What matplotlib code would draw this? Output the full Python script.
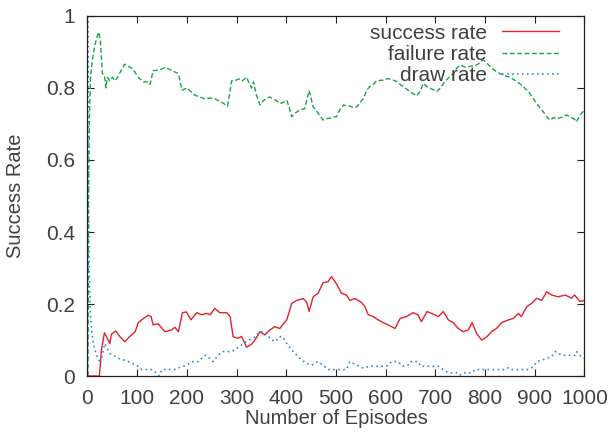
import matplotlib
matplotlib.use("Agg")
import matplotlib.pyplot as plt

# ---- data ----
success_ep = [1, 24, 28, 34, 38, 45, 48, 57, 65, 75, 85, 96, 102, 110, 122, 128, 132, 142, 156, 169, 176, 183,
              191, 199, 208, 220, 230, 240, 247, 256, 266, 280, 287, 293, 303, 310, 320, 330, 337, 347, 357,
              367, 377, 387, 394, 401, 411, 421, 434, 441, 446, 454, 464, 474, 484, 491, 501, 511, 521, 528,
              538, 551, 558, 565, 575, 585, 595, 605, 612, 619, 629, 642, 655, 665, 672, 683, 692, 706, 716,
              726, 736, 746, 756, 766, 774, 783, 793, 803, 813, 823, 833, 847, 857, 867, 873, 884, 894, 904,
              914, 924, 934, 947, 961, 974, 980, 991, 1000]
success_rate = [0.0, 0.0, 0.072, 0.12, 0.11, 0.09, 0.116, 0.125, 0.11, 0.095, 0.11, 0.123, 0.148, 0.157, 0.169,
                0.165, 0.142, 0.145, 0.123, 0.128, 0.135, 0.123, 0.176, 0.178, 0.156, 0.176, 0.17, 0.174, 0.17,
                0.188, 0.176, 0.176, 0.165, 0.109, 0.105, 0.11, 0.08, 0.088, 0.1, 0.123, 0.114, 0.128, 0.137,
                0.132, 0.145, 0.156, 0.202, 0.21, 0.215, 0.205, 0.179, 0.22, 0.23, 0.259, 0.262, 0.276, 0.256,
                0.23, 0.225, 0.21, 0.215, 0.205, 0.193, 0.17, 0.165, 0.156, 0.148, 0.142, 0.137, 0.132, 0.16,
                0.165, 0.176, 0.17, 0.151, 0.179, 0.174, 0.165, 0.179, 0.156, 0.148, 0.132, 0.123, 0.128, 0.148,
                0.118, 0.1, 0.108, 0.123, 0.132, 0.148, 0.156, 0.16, 0.174, 0.165, 0.193, 0.202, 0.216, 0.21,
                0.234, 0.225, 0.22, 0.225, 0.216, 0.225, 0.207, 0.21]

failure_ep = [1, 2, 4, 6, 10, 15, 20, 23, 26, 30, 34, 37, 40, 45, 50, 55, 61, 68, 75, 82, 89, 95, 102, 112, 122,
              126, 132, 145, 156, 168, 175, 183, 190, 200, 208, 216, 226, 236, 246, 256, 263, 270, 282, 290,
              296, 305, 312, 320, 330, 334, 340, 347, 354, 360, 367, 373, 380, 387, 394, 401, 406, 411, 418,
              427, 437, 446, 454, 464, 474, 481, 488, 495, 501, 508, 515, 521, 528, 535, 542, 555, 562, 568,
              575, 582, 595, 605, 615, 622, 629, 635, 649, 662, 669, 676, 682, 689, 696, 703, 710, 719, 728,
              736, 743, 750, 760, 770, 783, 790, 796, 803, 810, 817, 823, 837, 850, 864, 877, 890, 897, 904,
              910, 917, 924, 931, 938, 944, 957, 964, 971, 978, 984, 991, 1000]
failure_rate = [0.0, 0.5, 0.72, 0.83, 0.88, 0.92, 0.945, 0.955, 0.93, 0.84, 0.835, 0.80, 0.83, 0.82, 0.83, 0.82,
                0.83, 0.85, 0.866, 0.86, 0.855, 0.845, 0.83, 0.817, 0.817, 0.81, 0.848, 0.85, 0.857, 0.85, 0.845,
                0.84, 0.794, 0.80, 0.79, 0.78, 0.775, 0.77, 0.772, 0.77, 0.765, 0.76, 0.75, 0.82, 0.82, 0.825,
                0.82, 0.83, 0.80, 0.817, 0.78, 0.753, 0.765, 0.771, 0.775, 0.77, 0.765, 0.757, 0.76, 0.766, 0.745,
                0.72, 0.73, 0.739, 0.743, 0.793, 0.748, 0.730, 0.711, 0.715, 0.716, 0.72, 0.72, 0.74, 0.753, 0.75,
                0.75, 0.745, 0.748, 0.771, 0.794, 0.804, 0.81, 0.82, 0.822, 0.826, 0.822, 0.818, 0.81, 0.804, 0.79,
                0.778, 0.79, 0.813, 0.805, 0.80, 0.795, 0.79, 0.80, 0.818, 0.83, 0.84, 0.855, 0.864, 0.858, 0.86,
                0.864, 0.87, 0.878, 0.87, 0.86, 0.852, 0.845, 0.835, 0.83, 0.818, 0.804, 0.785, 0.77, 0.757, 0.745,
                0.734, 0.72, 0.711, 0.718, 0.714, 0.72, 0.725, 0.72, 0.715, 0.706, 0.725, 0.739]

draw_ep = [1, 2, 3, 4, 6, 8, 12, 18, 23, 26, 30, 35, 40, 45, 55, 62, 72, 82, 90, 99, 109, 129, 137, 144, 150,
           174, 190, 200, 210, 223, 236, 245, 253, 263, 273, 290, 300, 310, 324, 334, 340, 347, 357, 367, 377,
           387, 392, 401, 411, 421, 431, 441, 451, 464, 474, 484, 521, 528, 542, 555, 568, 602, 612, 625, 635,
           645, 649, 665, 670, 692, 706, 716, 726, 746, 750, 756, 774, 780, 840, 847, 853, 887, 897, 904, 914,
           924, 934, 941, 954, 981, 984, 990, 1000]
draw_rate = [1.0, 0.5, 0.33, 0.25, 0.17, 0.128, 0.09, 0.058, 0.045, 0.035, 0.06, 0.09, 0.075, 0.063, 0.055,
             0.049, 0.045, 0.04, 0.035, 0.03, 0.018, 0.018, 0.01, 0.0, 0.018, 0.018, 0.026, 0.03, 0.04, 0.04,
             0.058, 0.05, 0.04, 0.058, 0.068, 0.068, 0.077, 0.086, 0.1, 0.105, 0.114, 0.123, 0.123, 0.105, 0.095,
             0.109, 0.11, 0.09, 0.072, 0.058, 0.044, 0.035, 0.03, 0.04, 0.03, 0.018, 0.018, 0.04, 0.03, 0.022,
             0.027, 0.027, 0.04, 0.04, 0.027, 0.03, 0.04, 0.04, 0.027, 0.027, 0.027, 0.018, 0.009, 0.009, 0.003,
             0.009, 0.009, 0.018, 0.018, 0.023, 0.018, 0.018, 0.026, 0.04, 0.044, 0.049, 0.054, 0.068, 0.058,
             0.058, 0.068, 0.058, 0.049]

x_ticks = [0, 100, 200, 300, 400, 500, 600, 700, 800, 900, 1000]
y_ticks = [0, 0.2, 0.4, 0.6, 0.8, 1.0]
y_tick_labels = ["0", "0.2", "0.4", "0.6", "0.8", "1"]

# ---- style ----
plt.rcParams['font.family'] = ['Liberation Sans', 'DejaVu Sans']
text_col = '#404040'

fig = plt.figure(figsize=(6.11, 4.32), dpi=100)
ax = fig.add_axes([0.1432, 0.1296, 0.8134, 0.8334])

ax.plot(success_ep, success_rate, color='#e3202c', lw=1.0, ls='-', label='success rate')
ax.plot(failure_ep, failure_rate, color='#17a544', lw=1.0, ls=(0, (3.5, 1.8)), label='failure rate')
ax.plot(draw_ep, draw_rate, color='#3388cc', lw=1.2, ls=(0, (1, 2)), label='draw rate')

ax.set_xlim(0, 1000)
ax.set_ylim(0, 1)
ax.set_xticks(x_ticks)
ax.set_yticks(y_ticks)
ax.set_yticklabels(y_tick_labels)
ax.tick_params(direction='in', length=5, width=0.8, top=True, right=True,
               labelsize=15, labelcolor=text_col, pad=9, color='#202020')
for s in ax.spines.values():
    s.set_linewidth(0.9)
    s.set_color('#202020')

ax.set_xlabel('Number of Episodes', fontsize=14.5, color=text_col, labelpad=1)
ax.set_ylabel('Success Rate', fontsize=14.5, color=text_col, labelpad=15)

leg = ax.legend(loc='upper right', bbox_to_anchor=(0.9487, 0.979), markerfirst=False, frameon=False,
                fontsize=15, handlelength=2.74, handletextpad=0.72, labelspacing=0.11,
                borderaxespad=0.0, borderpad=0.0)
for t in leg.get_texts():
    t.set_color(text_col)

fig.savefig('out.png', dpi=100)
